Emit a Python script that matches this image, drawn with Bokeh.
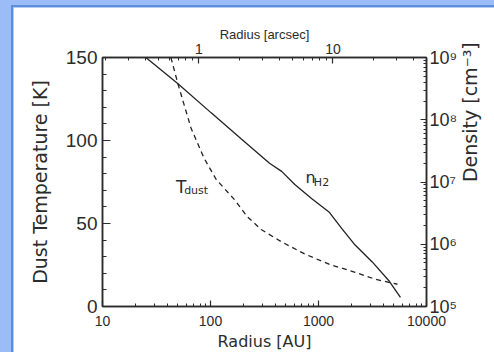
import math
from bokeh.plotting import figure
from bokeh.models import (Range1d, LogScale, LogAxis, FixedTicker,
                          BasicTickFormatter, Label)
from bokeh.layouts import column
from bokeh.embed import file_html
from bokeh.resources import INLINE

# ---- data ----
# n_H2 density profile (solid line, right axis)
nh2_radius_au = [25.2, 50, 101.5, 193, 352, 456, 603, 868, 1250, 1652, 2183, 3145, 4530, 5740]
nh2_density = [1.0e9, 3.8e8, 1.29e8, 4.9e7, 2.0e7, 1.48e7, 9.1e6, 5.4e6, 3.3e6, 1.77e6,
               9.7e5, 5.2e5, 2.54e5, 1.4e5]
# T_dust profile (dashed line, left axis)
tdust_radius_au = [43, 50, 66, 87.3, 113, 166, 220, 297, 456, 747, 1250, 2183, 3357, 5380]
tdust_temp = [150, 134, 107.5, 89.3, 76.5, 64.5, 54.0, 46.2, 38.9, 31.6, 25.5, 20.6, 16.4, 13.4]

# ticks
au_ticks = [10, 100, 1000, 10000]
au_minor = [m * d for d in (10, 100, 1000) for m in range(2, 10)]
arcsec_ticks = [1, 10]
arcsec_minor = [0.2, 0.3, 0.4, 0.5, 0.6, 0.7, 0.8, 0.9, 2, 3, 4, 5, 6, 7, 8, 9, 20, 30, 40]
temp_ticks = [0, 50, 100, 150]
temp_minor = [10, 20, 30, 40, 60, 70, 80, 90, 110, 120, 130, 140]
dens_ticks = [1e5, 1e6, 1e7, 1e8, 1e9]
dens_minor = [m * d for d in (1e5, 1e6, 1e7, 1e8) for m in range(2, 10)]
dens_labels = {1e5: "10⁵", 1e6: "10⁶", 1e7: "10⁷", 1e8: "10⁸", 1e9: "10⁹"}

INK = "#2b2b2b"
NUM_FONT = "Liberation Sans"
TXT_FONT = "DejaVu Sans"

p = figure(x_axis_type="log", x_range=Range1d(10, 10000), y_range=Range1d(0, 150),
           frame_width=322, frame_height=247,
           min_border_left=89, min_border_right=70, min_border_top=50, min_border_bottom=48,
           output_backend="svg", toolbar_location=None,
           background_fill_color="white", border_fill_color="white")
p.margin = (5, 0, 0, 11)
p.styles = {"border-top": "2px solid #5d8ed8", "border-left": "2px solid #5d8ed8"}
p.xgrid.visible = False
p.ygrid.visible = False
p.outline_line_color = INK
p.outline_line_width = 1.5

p.extra_x_ranges = {"arcsec": Range1d(0.191, 49.9)}
p.extra_x_scales = {"arcsec": LogScale()}
p.extra_y_ranges = {"dens": Range1d(1e5, 1e9)}
p.extra_y_scales = {"dens": LogScale()}


def style(ax, tick_size, label_size, label_font, major_in, minor_in, standoff, lab_standoff):
    ax.major_tick_in = major_in
    ax.major_tick_out = 0
    ax.minor_tick_in = minor_in
    ax.minor_tick_out = 0
    ax.axis_line_color = INK
    ax.axis_line_width = 1.5
    ax.major_tick_line_color = INK
    ax.minor_tick_line_color = INK
    ax.major_tick_line_width = 1.2
    ax.minor_tick_line_width = 1
    ax.major_label_text_font = NUM_FONT
    ax.major_label_text_font_size = tick_size
    ax.major_label_text_color = INK
    ax.major_label_standoff = standoff
    ax.axis_label_text_font = label_font
    ax.axis_label_text_font_size = label_size
    ax.axis_label_text_font_style = "normal"
    ax.axis_label_text_color = INK
    ax.axis_label_standoff = lab_standoff


# bottom axis (AU)
xb = p.xaxis[0]
xb.ticker = FixedTicker(ticks=au_ticks, minor_ticks=au_minor)
xb.formatter = BasicTickFormatter(use_scientific=False)
xb.axis_label = "Radius [AU]"
style(xb, "14px", "16px", TXT_FONT, 6, 3, 9, 3)

# left axis (temperature)
yl = p.yaxis[0]
yl.ticker = FixedTicker(ticks=temp_ticks, minor_ticks=temp_minor)
yl.axis_label = "Dust Temperature [K]"
style(yl, "19px", "19px", TXT_FONT, 8, 4, 5, 12)

# top axis (arcsec)
xt = LogAxis(x_range_name="arcsec", axis_label="Radius [arcsec]")
xt.ticker = FixedTicker(ticks=arcsec_ticks, minor_ticks=arcsec_minor)
xt.formatter = BasicTickFormatter(use_scientific=False)
style(xt, "14px", "13px", NUM_FONT, 6, 3, 4, -1)
p.add_layout(xt, "above")

# right axis (density)
yr = LogAxis(y_range_name="dens", axis_label="Density [cm⁻³]")
yr.ticker = FixedTicker(ticks=dens_ticks, minor_ticks=dens_minor)
yr.major_label_overrides = dens_labels
style(yr, "18px", "19px", TXT_FONT, 6, 3, 3, 10)
yr.axis_label_orientation = math.pi / 2
p.add_layout(yr, "right")

# curves
p.line(nh2_radius_au, nh2_density, y_range_name="dens", line_color="#222222", line_width=1.3)
p.line(tdust_radius_au, tdust_temp, line_color="#222222", line_width=1.3, line_dash="5 4")

# curve labels
p.add_layout(Label(x=47.9, y=72.2, text="T", text_font=TXT_FONT, text_font_size="17px",
                   text_color=INK, text_baseline="alphabetic"))
p.add_layout(Label(x=57.0, y=69.8, text="dust", text_font=TXT_FONT, text_font_size="11px",
                   text_color=INK, text_baseline="alphabetic"))
p.add_layout(Label(x=759, y=77.8, text="n", text_font=TXT_FONT, text_font_size="16px",
                   text_color=INK, text_baseline="alphabetic"))
p.add_layout(Label(x=906, y=74.8, text="H2", text_font=TXT_FONT, text_font_size="11px",
                   text_color=INK, text_baseline="alphabetic"))

layout = column(p, styles={"background-color": "#9bbcf6"})

open("out.html", "w").write(file_html(layout, INLINE))
